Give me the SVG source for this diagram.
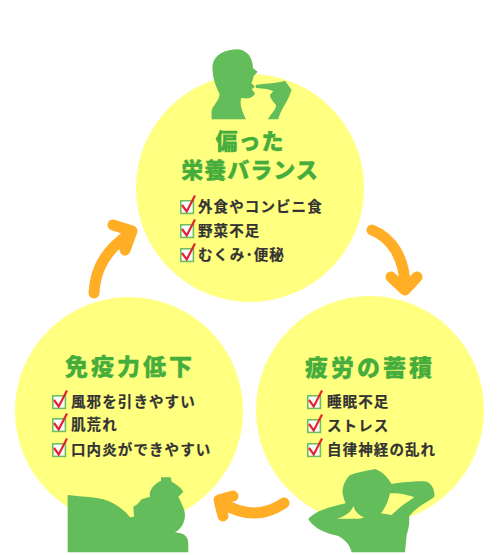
<svg xmlns="http://www.w3.org/2000/svg" width="499" height="555" viewBox="0 0 499 555">
<style>
.c{fill:#ffff80}
.s{fill:#62bd5a}
.t{font-family:"Noto Sans CJK JP",sans-serif;font-weight:900;font-size:22px;fill:#45ad3c;stroke:#45ad3c;stroke-width:.3;text-anchor:middle;letter-spacing:1px}
.w{font-size:23px;letter-spacing:3px}
.i{font-family:"Noto Sans CJK JP",sans-serif;font-weight:700;font-size:14.5px;fill:#333;stroke:#333;stroke-width:.2;letter-spacing:1.1px}
.a{fill:none;stroke:#ffae26;stroke-width:11;stroke-linecap:round;stroke-linejoin:round}
</style>
<defs>
<g id="chk">
<rect x="0.8" y="0.8" width="12.6" height="12.6" fill="#fff" stroke="#6cc062" stroke-width="1.6"/>
<path d="M2 5L6.7 11.5L15-4.5" fill="none" stroke="#e8212e" stroke-width="2.2"/>
</g>
</defs>
<g id="connectors">
<path class="a" d="M94 293C95 270 106 250 128 235M113 225L132 231L125 250"/>
<path class="a" d="M372 230C392 238 405 258 405 288M391 277L405 290L417 277"/>
<path class="a" d="M284 503C265 516 245 517 222 503M233 496L219 500L223 516"/>
</g>
<g id="node-top">
<circle class="c" cx="250" cy="188" r="114"/>
<path class="s" transform="translate(170 30) scale(.3333)" d="M125 268C125 255 122 240 130 230C140 215 150 205 148 190C135 165 125 135 128 105C132 75 165 58 205 58C235 62 248 85 249 115L263 125L251 138L248 150L244 160L255 170L245 178L255 190C250 205 230 208 215 203C208 215 212 235 228 268Z"/>
<path class="s" transform="translate(170 30) scale(.3333)" d="M257 165C285 160 310 160 335 155L345 152L365 180L355 205C345 225 330 245 325 268L293 268C305 250 320 235 318 225C310 215 300 205 300 195L310 183L290 177L258 174Z"/>
<text class="t" x="250" y="149">偏った</text>
<text class="t" x="250" y="178">栄養バランス</text>
<use href="#chk" x="180" y="200"/><text class="i" x="198" y="212">外食やコンビニ食</text>
<use href="#chk" x="180" y="224"/><text class="i" x="198" y="236">野菜不足</text>
<use href="#chk" x="180" y="248"/><text class="i" x="198" y="260">むくみ･便秘</text>
</g>
<g id="node-left">
<circle class="c" cx="129" cy="411" r="114"/>
<text class="t w" x="130" y="375">免疫力低下</text>
<use href="#chk" x="52" y="395"/><text class="i" x="71" y="407">風邪を引きやすい</text>
<use href="#chk" x="52" y="418"/><text class="i" x="71" y="430">肌荒れ</text>
<use href="#chk" x="52" y="443"/><text class="i" x="71" y="455">口内炎ができやすい</text>
<path class="s" transform="translate(50 465) scale(.3333)" d="M53 90C90 95 130 95 160 103C190 112 225 135 240 157L252 155L250 125L262 118L275 103L300 95C295 75 315 55 333 47L333 37L362 37L365 50C380 58 395 70 400 80L385 95C395 115 405 135 405 150C405 175 390 195 375 202C400 205 415 210 415 240L415 262L53 262Z"/>
</g>
<g id="node-right">
<circle class="c" cx="370" cy="410" r="114"/>
<text class="t w" x="370" y="376">疲労の蓄積</text>
<use href="#chk" x="307" y="395"/><text class="i" x="327" y="407">睡眠不足</text>
<use href="#chk" x="307" y="419"/><text class="i" x="327" y="431">ストレス</text>
<use href="#chk" x="307" y="443"/><text class="i" x="327" y="455">自律神経の乱れ</text>
<path class="s" fill-rule="evenodd" transform="translate(295 460) scale(.3333)" d="M40 178C55 155 100 142 152 130C150 125 140 100 143 90C145 70 155 55 165 45C185 38 215 32 240 27C265 35 280 55 290 72C330 65 380 62 395 65C410 70 420 90 418 110C400 125 370 135 342 170C345 190 340 210 335 225L330 277L170 277C165 260 160 245 130 228C100 222 60 210 40 178ZM125 176C150 170 170 155 175 138C180 155 190 165 207 172C195 178 185 176 170 176ZM285 100C310 98 340 105 358 112C340 125 320 135 290 165L258 160C270 145 280 125 285 100Z"/>
</g>
</svg>
